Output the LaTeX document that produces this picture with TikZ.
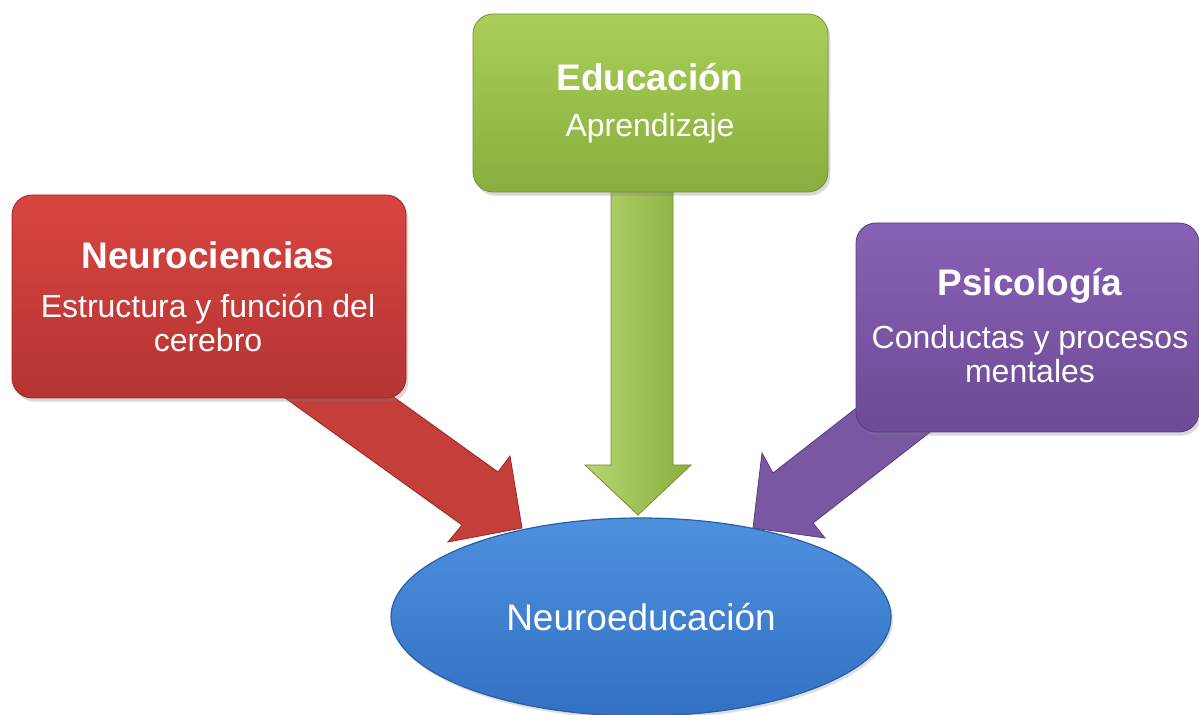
\documentclass[tikz,border=0pt]{standalone}
\usepackage{fontspec}
\setmainfont{Liberation Sans}
\usetikzlibrary{shapes.geometric,shadows}
\definecolor{redtop}{RGB}{217,69,65}
\definecolor{redbot}{RGB}{180,52,50}
\definecolor{redline}{RGB}{150,40,38}
\definecolor{redfill}{RGB}{196,62,58}
\definecolor{greentop}{RGB}{170,206,88}
\definecolor{greenbot}{RGB}{138,174,62}
\definecolor{greenline}{RGB}{115,145,50}
\definecolor{purptop}{RGB}{137,97,182}
\definecolor{purpbot}{RGB}{108,74,148}
\definecolor{purpline}{RGB}{90,60,125}
\definecolor{purpfill}{RGB}{122,87,163}
\definecolor{bluetop}{RGB}{78,145,222}
\definecolor{bluebot}{RGB}{50,112,195}
\definecolor{blueline}{RGB}{40,95,165}
\tikzset{
  box/.style={rectangle, rounded corners=10pt, inner sep=0pt, line width=0.4pt,
    drop shadow={opacity=0.3, shadow xshift=1.2pt, shadow yshift=-1.8pt}},
  redbox/.style={box, top color=redtop, bottom color=redbot, draw=redline},
  greenbox/.style={box, top color=greentop, bottom color=greenbot, draw=greenline},
  purpbox/.style={box, top color=purptop, bottom color=purpbot, draw=purpline},
  title/.style={text=white, font=\fontsize{18.5}{22}\selectfont\bfseries},
  sub/.style={text=white, align=center, font=\fontsize{16}{17}\selectfont},
  redarrow/.style={fill=redfill, draw=redline, line width=0.4pt},
  greenarrow/.style={left color=greentop!85!white, right color=greenbot, draw=greenline, line width=0.4pt},
  purparrow/.style={fill=purpfill, draw=purpline, line width=0.4pt},
}
\begin{document}
\begin{tikzpicture}[x=0.5pt,y=-0.5pt]
\useasboundingbox (0,0) rectangle (1199,715);
\clip (0,0) rectangle (1199,715);
% arrows
\draw[greenarrow] (611,185) -- (673,185) -- (673,465) -- (691,465) -- (638,515) -- (585,465) -- (611,465) -- cycle;
\draw[redarrow] (260,380) -- (370,380) -- (498,472) -- (510,456) -- (522,528) -- (448,542) -- (462,525) -- cycle;
\draw[purparrow] (891,381) -- (947,419) -- (813,523) -- (825,538) -- (753,528) -- (762,453) -- (773,473) -- cycle;
% boxes
\node[redbox, minimum width=197pt, minimum height=101.5pt] (neuro) at (209,296.5) {};
\node[greenbox, minimum width=177.5pt, minimum height=89pt] (educ) at (650.5,103) {};
\node[purpbox, minimum width=171.5pt, minimum height=104.5pt] (psico) at (1027.5,327.5) {};
% ellipse
\node[ellipse, inner sep=0pt, minimum width=250pt, minimum height=99pt,
  top color=bluetop, bottom color=bluebot, draw=blueline, line width=0.6pt,
  drop shadow={opacity=0.25, shadow xshift=1pt, shadow yshift=-1.5pt}] (neuroedu) at (641,617) {};
% texts
\node[title] (neurot) at (208,255) {Neurociencias};
\node[sub] (neuros) at (208,323) {Estructura y función del\\cerebro};
\node[title] (educt) at (650,77) {Educación};
\node[sub] (educs) at (650,128) {Aprendizaje};
\node[title] (psicot) at (1030,286) {Psicología};
\node[sub] (psicos) at (1030,354) {Conductas y procesos\\mentales};
\node[text=white, font=\fontsize{18.5}{22}\selectfont] (neuroedut) at (641,617) {Neuroeducación};
\end{tikzpicture}
\end{document}
